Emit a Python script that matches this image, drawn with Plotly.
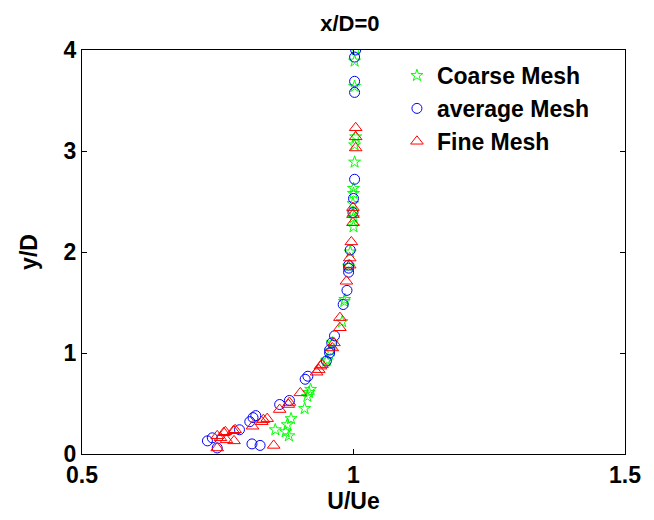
import plotly.graph_objects as go

coarse_x = [1.004, 1.002, 1.002, 1.004, 1.002, 1.002, 1.000, 1.000, 0.999, 0.999, 1.000, 1.000,
            0.994, 0.991, 0.984, 0.983, 0.979, 0.961, 0.958, 0.951, 0.950, 0.921, 0.918, 0.915,
            0.910, 0.885, 0.878, 0.856, 0.875, 0.881]
coarse_y = [4.00, 3.89, 3.64, 3.14, 3.06, 2.89, 2.63, 2.58, 2.48, 2.39, 2.34, 2.25,
            2.00, 1.86, 1.53, 1.51, 1.31, 1.10, 1.02, 0.93, 0.92, 0.64, 0.61, 0.57,
            0.45, 0.35, 0.29, 0.24, 0.22, 0.18]

avg_x = [1.004, 1.002, 1.002, 1.002, 1.002, 1.000, 0.999, 0.994, 0.991, 0.991, 0.991, 0.988,
         0.981, 0.965, 0.960, 0.956, 0.956, 0.950, 0.916, 0.911, 0.882, 0.864, 0.820, 0.815,
         0.809, 0.790, 0.731, 0.740, 0.749, 0.813, 0.828]
avg_y = [4.00, 3.93, 3.69, 3.58, 2.72, 2.53, 2.39, 2.02, 1.87, 1.84, 1.80, 1.62,
         1.48, 1.17, 1.10, 1.03, 1.00, 0.92, 0.77, 0.74, 0.53, 0.49, 0.38, 0.36,
         0.32, 0.24, 0.13, 0.16, 0.06, 0.10, 0.085]

fine_x = [1.004, 1.004, 1.004, 0.999, 0.999, 0.999, 0.996, 0.993, 0.993, 0.987, 0.975, 0.975,
          0.964, 0.961, 0.942, 0.939, 0.936, 0.932, 0.902, 0.882, 0.880, 0.864, 0.841, 0.834,
          0.831, 0.814, 0.782, 0.779, 0.761, 0.766, 0.780, 0.853, 0.749, 0.764, 0.755, 0.749]
fine_y = [3.23, 3.14, 3.03, 2.44, 2.37, 2.29, 2.10, 1.94, 1.87, 1.71, 1.35, 1.25,
          1.10, 1.05, 0.885, 0.87, 0.835, 0.81, 0.605, 0.51, 0.49, 0.44, 0.35, 0.34,
          0.32, 0.275, 0.24, 0.23, 0.21, 0.14, 0.13, 0.085, 0.18, 0.22, 0.16, 0.06]

x_ticks = [0.5, 1, 1.5]
y_ticks = [0, 1, 2, 3, 4]

FONT = "Arial, Liberation Sans, sans-serif"

fig = go.Figure()
fig.add_trace(go.Scatter(x=coarse_x, y=coarse_y, mode="markers", name="Coarse Mesh",
                         legendgroup="a",
                         marker=dict(symbol="star-open", size=9, color="#00ff00",
                                     line=dict(width=1, color="#00ff00"))))
fig.add_trace(go.Scatter(x=avg_x, y=avg_y, mode="markers", name="average Mesh",
                         legendgroup="b",
                         marker=dict(symbol="circle-open", size=10, color="#0000ff",
                                     line=dict(width=1, color="#0000ff"))))
fig.add_trace(go.Scatter(x=fine_x, y=fine_y, mode="markers", name="Fine Mesh",
                         legendgroup="c",
                         marker=dict(symbol="triangle-up-open", size=11, color="#ff0000",
                                     line=dict(width=1, color="#ff0000"))))

axis_common = dict(showline=True, linecolor="black", linewidth=1, mirror="ticks",
                   ticks="inside", ticklen=5, tickcolor="black", showgrid=False,
                   zeroline=False, automargin=False,
                   tickfont=dict(family=FONT, size=23, color="black", weight="bold"))

fig.update_xaxes(range=[0.5, 1.5], tickvals=x_ticks, ticktext=[str(v) for v in x_ticks],
                 title=dict(text="U/Ue", font=dict(family=FONT, size=23, color="black", weight="bold"),
                            standoff=6),
                 **axis_common)
fig.update_yaxes(range=[0, 4], tickvals=y_ticks, ticktext=[str(v) for v in y_ticks],
                 title=dict(text="y/D", font=dict(family=FONT, size=23, color="black", weight="bold"),
                            standoff=19),
                 **axis_common)

fig.update_layout(
    width=654, height=520,
    margin=dict(l=82, r=29, t=50, b=66, autoexpand=False),
    paper_bgcolor="white", plot_bgcolor="white",
    title=dict(text="x/D=0", x=0.535, xanchor="center", y=0.955, yanchor="middle",
               font=dict(family=FONT, size=22, color="black", weight="bold")),
    legend=dict(x=0.58, y=0.99, xanchor="left", yanchor="top", bgcolor="rgba(0,0,0,0)",
                font=dict(family=FONT, size=23, color="black", weight="bold"),
                traceorder="grouped", tracegroupgap=0),
    showlegend=True,
)

fig.write_html("out.html", config={"displayModeBar": False},
               post_script="document.body.style.margin='0';")
